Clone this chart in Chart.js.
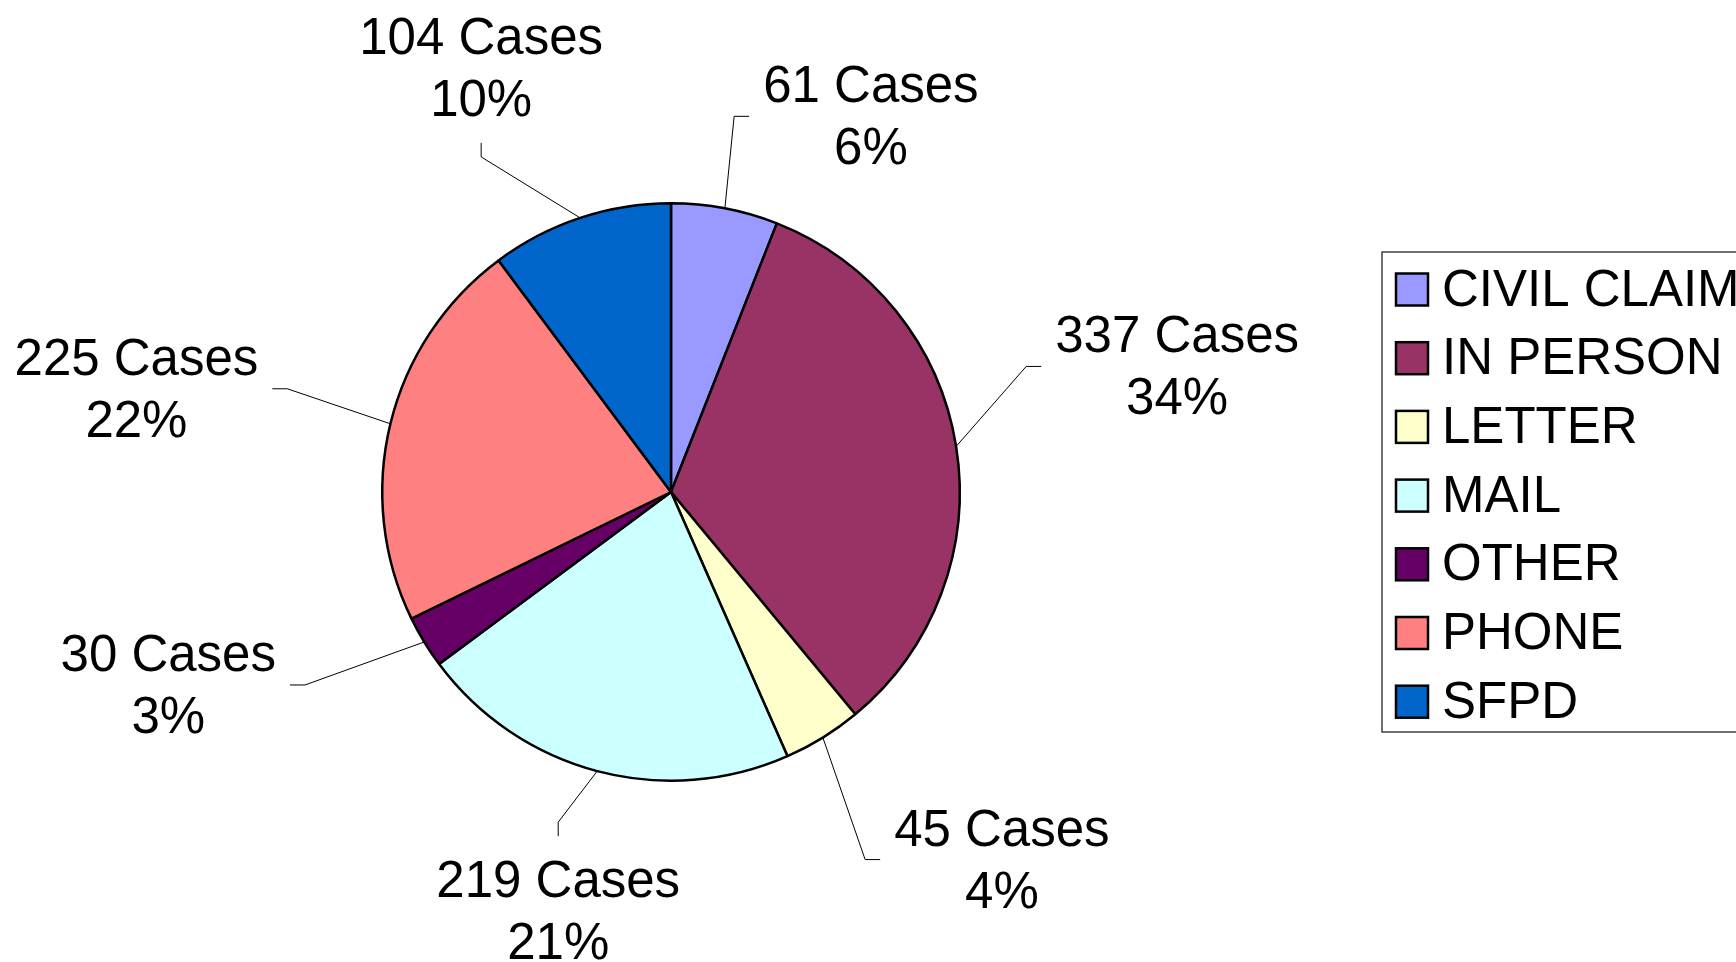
<!DOCTYPE html>
<html>
<head>
<meta charset="utf-8">
<script src="https://cdn.jsdelivr.net/npm/chart.js@4.4.0/dist/chart.umd.min.js"></script>
<style>
  html, body { margin: 0; padding: 0; background: #fff; overflow: hidden; }
  #wrap { width: 1736px; height: 962px; }
</style>
</head>
<body>
<div id="wrap"><canvas id="myChart" width="1736" height="962"></canvas></div>
<script>
const categories = ['CIVIL CLAIM', 'IN PERSON', 'LETTER', 'MAIL', 'OTHER', 'PHONE', 'SFPD'];
const cases = [61, 337, 45, 219, 30, 225, 104];
const pctLabels = ['6%', '34%', '4%', '21%', '3%', '22%', '10%'];
const colors = ['#9999FF', '#993366', '#FFFFCC', '#CCFFFF', '#660066', '#FF8080', '#0066CC'];

// where each label sits, relative to the middle of its slice's outer edge
// [dx, dy, leader tail direction]
const labelLayout = [
  [146, -92, 'h'],
  [221, -80, 'h'],
  [179, 122, 'h'],
  [-39, 140, 'v'],
  [-256, 43, 'h'],
  [-254, -35, 'h'],
  [-99, -150, 'v'],
];

const FONT = '51px "Liberation Sans", Arial, sans-serif';

// slice labels with leader lines
const sliceLabels = {
  id: 'sliceLabels',
  afterDatasetsDraw(chart) {
    const c = chart.ctx;
    const meta = chart.getDatasetMeta(0);
    c.save();
    c.font = FONT;
    c.fillStyle = '#000';
    c.textAlign = 'center';
    c.textBaseline = 'middle';
    meta.data.forEach((arc, i) => {
      const p = arc.getProps(['x', 'y', 'startAngle', 'endAngle', 'outerRadius'], true);
      const mid = (p.startAngle + p.endAngle) / 2;
      const ax = p.x + Math.cos(mid) * p.outerRadius;
      const ay = p.y + Math.sin(mid) * p.outerRadius;
      const [dx, dy, dir] = labelLayout[i];
      const cx = ax + dx;
      const cy = ay + dy;
      const line1 = cases[i] + ' Cases';
      const w = c.measureText(line1).width;
      let tx, ty, ex, ey;
      if (dir === 'h') {
        const s = Math.sign(dx);
        tx = cx - s * (w / 2 + 14);
        ty = cy;
        ex = tx - s * 15;
        ey = ty;
      } else {
        const s = Math.sign(dy);
        tx = cx;
        ty = cy - s * 75;
        ex = tx;
        ey = ty - s * 14;
      }
      c.beginPath();
      c.strokeStyle = '#000';
      c.lineWidth = 1;
      c.moveTo(ax, ay);
      c.lineTo(ex, ey);
      c.lineTo(tx, ty);
      c.stroke();
      c.fillText(line1, cx, cy - 28);
      c.fillText(pctLabels[i], cx, cy + 34);
    });
    c.restore();
  },
};

// boxed legend on the right, running off the edge
const boxLegend = {
  id: 'boxLegend',
  afterDraw(chart) {
    const c = chart.ctx;
    c.save();
    c.strokeStyle = '#404040';
    c.lineWidth = 1.5;
    c.strokeRect(1382, 252, 600, 480);
    c.font = FONT;
    c.textAlign = 'left';
    c.textBaseline = 'middle';
    categories.forEach((name, i) => {
      const y = 289.5 + i * 68.7;
      c.fillStyle = colors[i];
      c.fillRect(1396, y - 16, 32, 32);
      c.strokeStyle = '#000';
      c.lineWidth = 2.5;
      c.strokeRect(1396, y - 16, 32, 32);
      c.fillStyle = '#000';
      c.fillText(name, 1442, y + 2);
    });
    c.restore();
  },
};

const ctx = document.getElementById('myChart');

new Chart(ctx, {
  type: 'pie',
  data: {
    labels: categories,
    datasets: [
      {
        data: cases,
        backgroundColor: colors,
        borderColor: '#000',
        borderWidth: 2.5,
      },
    ],
  },
  options: {
    responsive: false,
    animation: false,
    layout: {
      padding: { left: 381, right: 775, top: 202, bottom: 180 },
    },
    plugins: {
      legend: { display: false },
      tooltip: { enabled: false },
    },
  },
  plugins: [sliceLabels, boxLegend],
});
</script>
</body>
</html>
